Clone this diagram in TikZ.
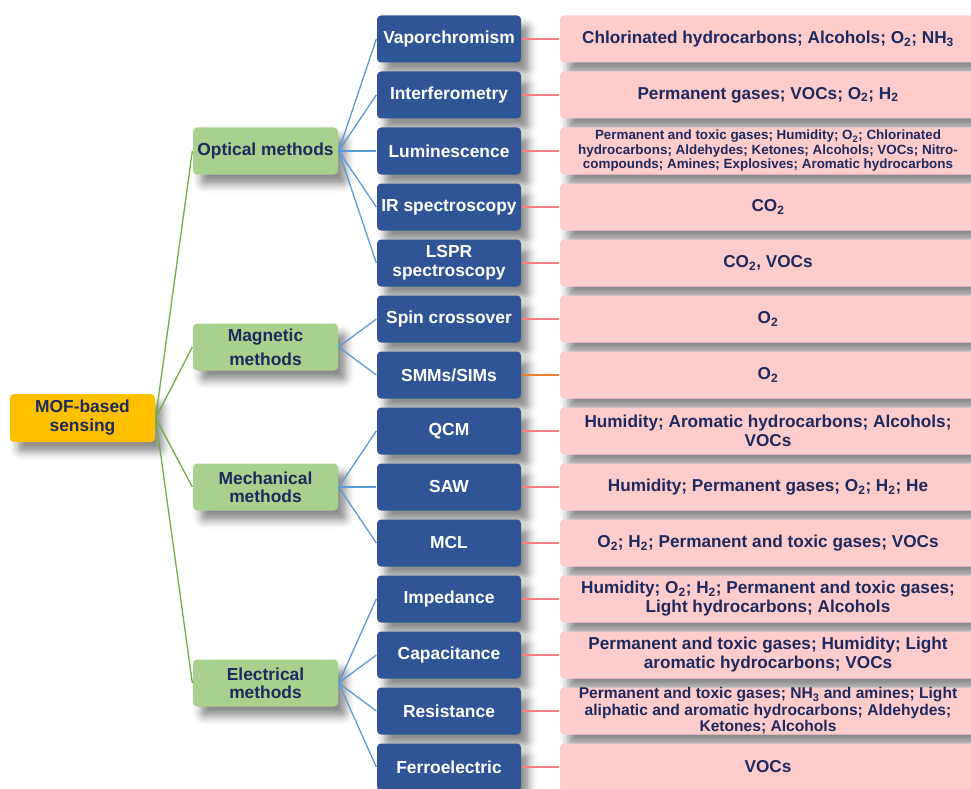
\documentclass[tikz,border=0pt]{standalone}
\usepackage{fontspec}
\setmainfont{Liberation Sans}
\usetikzlibrary{positioning,calc,shadows.blur}
\definecolor{rootorange}{HTML}{FFC000}
\definecolor{groupgreen}{HTML}{A9D18E}
\definecolor{methodblue}{HTML}{2F5597}
\definecolor{targetpink}{HTML}{FFCCCC}
\definecolor{textnavy}{HTML}{1C2A5E}
\definecolor{linegreen}{HTML}{70AD47}
\definecolor{lineblue}{HTML}{5B9BD5}
\definecolor{linepink}{HTML}{FF7C80}
\definecolor{lineorange}{HTML}{ED7D31}

\begin{document}
\begin{tikzpicture}[x=1pt, y=-1pt, on grid, node distance=56pt, line width=1.3pt,
    box/.style={rounded corners=4pt, align=center, inner sep=0pt,
      blur shadow={shadow xshift=8pt, shadow yshift=-10pt, shadow blur radius=8pt, shadow opacity=45}},
    rootbox/.style={box, fill=rootorange, text=textnavy, minimum width=145pt, minimum height=48pt,
      font=\fontsize{17.4}{19}\selectfont\bfseries},
    groupbox/.style={box, fill=groupgreen, text=textnavy, minimum width=145pt, minimum height=47pt,
      font=\fontsize{17.4}{24}\selectfont\bfseries},
    methodbox/.style={box, fill=methodblue, text=white, minimum width=144pt, minimum height=47pt,
      font=\fontsize{17.4}{19}\selectfont\bfseries},
    targetbox/.style={box, fill=targetpink, text=textnavy, minimum width=416pt, minimum height=47pt,
      font=\fontsize{17.2}{19}\selectfont\bfseries}]
    \useasboundingbox (0,0) rectangle (971,789);

    % methods
    \node[methodbox] (vap) at (449,39) {Vaporchromism};
    \node[methodbox, below=of vap] (inter) {Interferometry};
    \node[methodbox, below=of inter] (lum) {Luminescence};
    \node[methodbox, below=of lum] (ir) {IR spectroscopy};
    \node[methodbox, below=of ir] (lspr) {LSPR\\spectroscopy};
    \node[methodbox, below=of lspr] (spin) {Spin crossover};
    \node[methodbox, below=of spin] (smm) {SMMs/SIMs};
    \node[methodbox, below=of smm] (qcm) {QCM};
    \node[methodbox, below=of qcm] (saw) {SAW};
    \node[methodbox, below=of saw] (mcl) {MCL};
    \node[methodbox, below=of mcl] (imp) {Impedance};
    \node[methodbox, below=of imp] (cap) {Capacitance};
    \node[methodbox, below=of cap] (res) {Resistance};
    \node[methodbox, below=of res] (ferro) {Ferroelectric};

    % analytes
    \node[targetbox, right=319pt of vap] (vapT) {Chlorinated hydrocarbons; Alcohols; O\textsubscript{2}; NH\textsubscript{3}};
    \node[targetbox, right=319pt of inter] (interT) {Permanent gases; VOCs; O\textsubscript{2}; H\textsubscript{2}};
    \node[targetbox, right=319pt of lum, font=\fontsize{13.4}{14.5}\selectfont\bfseries] (lumT)
      {Permanent and toxic gases; Humidity; O\textsubscript{2}; Chlorinated\\
       hydrocarbons; Aldehydes; Ketones; Alcohols; VOCs; Nitro-\\
       compounds; Amines; Explosives; Aromatic hydrocarbons};
    \node[targetbox, right=319pt of ir] (irT) {CO\textsubscript{2}};
    \node[targetbox, right=319pt of lspr] (lsprT) {CO\textsubscript{2}, VOCs};
    \node[targetbox, right=319pt of spin] (spinT) {O\textsubscript{2}};
    \node[targetbox, right=319pt of smm] (smmT) {O\textsubscript{2}};
    \node[targetbox, right=319pt of qcm] (qcmT) {Humidity;\ Aromatic hydrocarbons; Alcohols;\\VOCs};
    \node[targetbox, right=319pt of saw] (sawT) {Humidity;\ Permanent gases; O\textsubscript{2}; H\textsubscript{2}; He};
    \node[targetbox, right=319pt of mcl] (mclT) {O\textsubscript{2}; H\textsubscript{2}; Permanent and toxic gases; VOCs};
    \node[targetbox, right=319pt of imp] (impT)
      {Humidity;\ O\textsubscript{2}; H\textsubscript{2}; Permanent and toxic gases;\\Light hydrocarbons; Alcohols};
    \node[targetbox, right=319pt of cap] (capT)
      {Permanent and toxic gases; Humidity;\ Light\\aromatic hydrocarbons; VOCs};
    \node[targetbox, right=319pt of res, font=\fontsize{15.6}{16.5}\selectfont\bfseries] (resT)
      {Permanent and toxic gases; NH\textsubscript{3} and amines; Light\\
       aliphatic and aromatic hydrocarbons; Aldehydes;\\Ketones; Alcohols};
    \node[targetbox, right=319pt of ferro] (ferroT) {VOCs};

    % groups
    \node[groupbox, left=183.5pt of lum] (opt) {Optical methods};
    \node[groupbox] (mag) at ($(spin)!0.5!(smm)+(-183.5,0)$) {Magnetic\\methods};
    \node[groupbox, left=183.5pt of saw, font=\fontsize{17.4}{18}\selectfont\bfseries] (mech) {Mechanical\\methods};
    \node[groupbox, font=\fontsize{17.4}{18}\selectfont\bfseries] (ele) at ($(cap)!0.5!(res)+(-183.5,0)$) {Electrical\\methods};

    \node[rootbox] (root) at (82.5,418) {MOF-based\\sensing};

    \draw[linegreen] (root.east) edge (opt.west) edge (mag.west) edge (mech.west) edge (ele.west);
    \draw[lineblue] (opt.east) edge (vap.west) edge (inter.west) edge (lum.west) edge (ir.west) edge (lspr.west);
    \draw[lineblue] (mag.east) edge (spin.west) edge (smm.west);
    \draw[lineblue] (mech.east) edge (qcm.west) edge (saw.west) edge (mcl.west);
    \draw[lineblue] (ele.east) edge (imp.west) edge (cap.west) edge (res.west) edge (ferro.west);
    \draw[linepink] (vap) -- (vapT) (inter) -- (interT) (lum) -- (lumT) (ir) -- (irT)
                    (lspr) -- (lsprT) (spin) -- (spinT) (qcm) -- (qcmT) (saw) -- (sawT)
                    (mcl) -- (mclT) (imp) -- (impT) (cap) -- (capT) (res) -- (resT) (ferro) -- (ferroT);
    \draw[lineorange] (smm) -- (smmT);
  \end{tikzpicture}
\end{document}
